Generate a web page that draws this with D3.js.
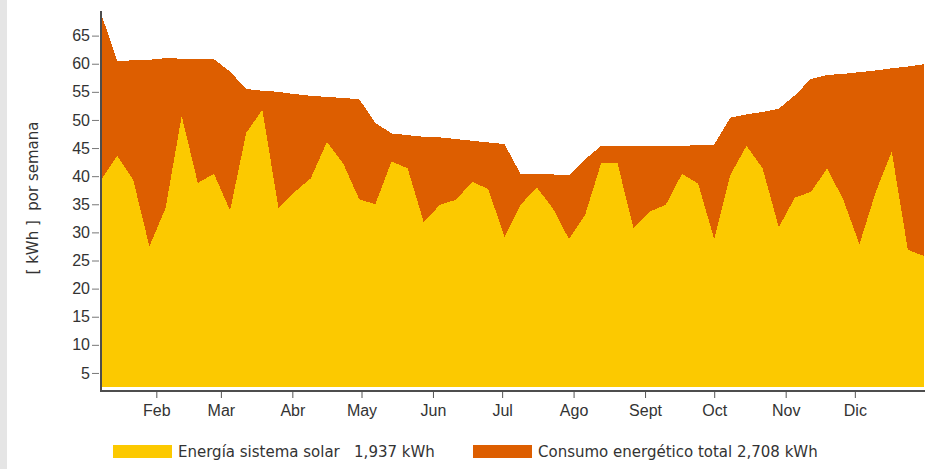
<!DOCTYPE html>
<html>
<head>
<meta charset="utf-8">
<script src="https://cdn.jsdelivr.net/npm/d3@7"></script>
<style>
  body { margin: 0; background: #fff; }
  svg { display: block; font-family: "DejaVu Sans", Verdana, sans-serif; }
</style>
</head>
<body>
<svg id="chart" width="928" height="469"></svg>
<script>
// weekly values, kWh per week
const solar = [39.3, 43.6, 39.3, 27.5, 34.3, 50.7, 38.8, 40.4, 33.9, 47.7,
               51.8, 34.3, 37.2, 39.6, 46.1, 42.3, 35.9, 35.0, 42.6, 41.4,
               31.8, 34.9, 35.8, 39.0, 37.7, 29.2, 34.9, 38.0, 34.3, 28.8,
               33.1, 42.4, 42.4, 30.7, 33.7, 34.9, 40.4, 38.7, 28.8, 40.2,
               45.4, 41.4, 30.9, 36.2, 37.2, 41.4, 35.8, 27.9, 37.1, 44.4,
               26.9, 25.8];
const consumo = [69.0, 60.5, 60.6, 60.7, 61.0, 60.9, 60.9, 60.8, 58.6, 55.5,
                 55.2, 55.0, 54.6, 54.3, 54.1, 53.9, 53.7, 49.5, 47.6, 47.3,
                 47.0, 46.9, 46.6, 46.3, 46.0, 45.7, 40.4, 40.4, 40.3, 40.2,
                 43.0, 45.4, 45.4, 45.4, 45.4, 45.4, 45.4, 45.5, 45.6, 50.4,
                 51.0, 51.4, 52.0, 54.4, 57.3, 58.0, 58.2, 58.5, 58.8, 59.2,
                 59.5, 59.9];
const monthLabels = ['Feb', 'Mar', 'Abr', 'May', 'Jun', 'Jul', 'Ago', 'Sept', 'Oct', 'Nov', 'Dic'];
const yTicks = [5, 10, 15, 20, 25, 30, 35, 40, 45, 50, 55, 60, 65];
const legendItems = [
  { label: 'Energía sistema solar', total: '1,937 kWh', color: '#fcc900' },
  { label: 'Consumo energético total', total: '2,708 kWh', color: '#dd5e00' }
];

const weeks = solar.map((_, i) => new Date(2023, 0, 8 + 7 * i));
const data = weeks.map((d, i) => ({ date: d, solar: solar[i], consumo: consumo[i] }));
const monthDates = monthLabels.map((_, i) => new Date(2023, i + 1, 1));

const svg = d3.select('#chart');

// grey strip on the left edge
svg.append('rect').attr('x', 0).attr('y', 0).attr('width', 7).attr('height', 469).attr('fill', '#e5e5e5');

const x = d3.scaleTime().domain([weeks[0], weeks[weeks.length - 1]]).range([101, 924]);
const y = d3.scaleLinear().domain([2.5, 69.2]).range([387, 12]);
const axisY = 391;

const area = key => d3.area()
  .x(d => x(d.date))
  .y0(y(2.5))
  .y1(d => y(d[key]));

svg.append('path').datum(data)
  .attr('fill', legendItems[1].color)
  .attr('shape-rendering', 'crispEdges')
  .attr('d', area('consumo'));

svg.append('path').datum(data)
  .attr('fill', legendItems[0].color)
  .attr('shape-rendering', 'crispEdges')
  .attr('d', area('solar'));

// x axis
const gx = svg.append('g')
  .attr('transform', `translate(0,${axisY})`)
  .call(d3.axisBottom(x).tickValues(monthDates).tickFormat((d, i) => monthLabels[i])
    .tickSizeInner(7).tickSizeOuter(0).tickPadding(7));
gx.select('.domain').remove();
gx.selectAll('line').attr('stroke', '#555');
gx.selectAll('text').attr('font-size', 16).attr('fill', '#333').attr('font-family', null);

// y axis
const gy = svg.append('g')
  .attr('transform', 'translate(101,0)')
  .call(d3.axisLeft(y).tickValues(yTicks).tickSize(0).tickPadding(11));
gy.select('.domain').remove();
gy.selectAll('.tick line').attr('x1', -9).attr('x2', -2).attr('stroke', '#777');
gy.selectAll('text').attr('font-size', 16).attr('fill', '#333').attr('font-family', null);

// axis lines
svg.append('line').attr('x1', 101).attr('x2', 101).attr('y1', 11).attr('y2', axisY + 1)
  .attr('stroke', '#4d4d4d').attr('stroke-width', 2);
svg.append('line').attr('x1', 100).attr('x2', 925).attr('y1', axisY).attr('y2', axisY)
  .attr('stroke', '#4d4d4d').attr('stroke-width', 2);

// y title
svg.append('text')
  .attr('transform', 'translate(38,198) rotate(-90)')
  .attr('text-anchor', 'middle')
  .attr('font-size', 15)
  .attr('fill', '#333')
  .style('white-space', 'pre')
  .text('[ kWh ]  por semana');

// legend
const legendX = [113, 473];
legendItems.forEach((item, i) => {
  const g = svg.append('g').attr('transform', `translate(${legendX[i]},445)`);
  g.append('rect').attr('width', 59).attr('height', 13).attr('fill', item.color);
  const t = g.append('text').attr('x', 65).attr('y', 12).attr('font-size', 15).attr('fill', '#333')
    .style('white-space', 'pre');
  t.text(item.label + (i === 0 ? '   ' : ' ') + item.total);
});
</script>
</body>
</html>
